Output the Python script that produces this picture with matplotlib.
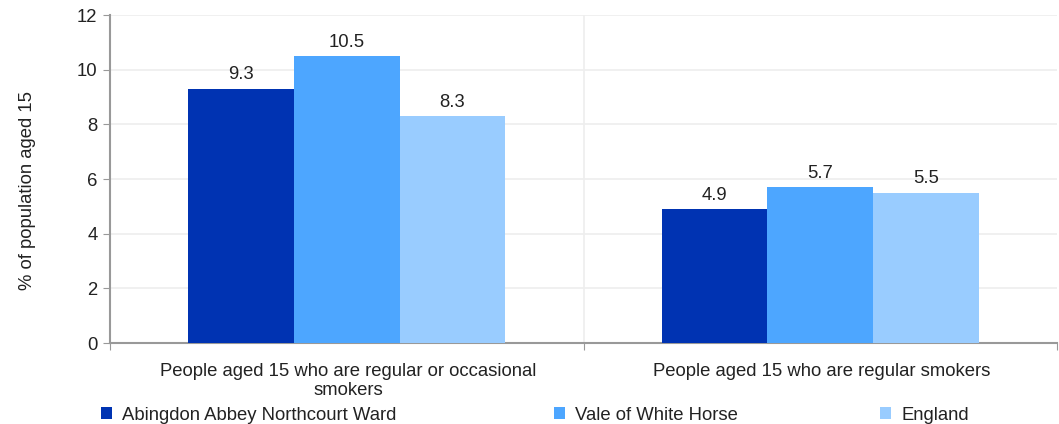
import numpy as np
import matplotlib.pyplot as plt

plt.rcParams['font.family'] = ['Liberation Sans', 'DejaVu Sans']

categories = ['People aged 15 who are regular or occasional\nsmokers',
              'People aged 15 who are regular smokers']
series_names = ['Abingdon Abbey Northcourt Ward', 'Vale of White Horse', 'England']
abingdon = [9.3, 4.9]
vale = [10.5, 5.7]
england = [8.3, 5.5]
colors = ['#0033B2', '#4DA6FF', '#99CCFF']

FS = 13.3
W, H = 1059, 424

fig = plt.figure(figsize=(W / 100, H / 100), dpi=100)
ax = fig.add_axes([110 / W, (H - 343) / H, 947 / W, 328 / H])

x = np.arange(len(categories))
width = 0.223
for i, (vals, name, c) in enumerate(zip([abingdon, vale, england], series_names, colors)):
    bars = ax.bar(x + (i - 1) * width, vals, width, color=c, label=name, zorder=3)
    for b, v in zip(bars, vals):
        ax.text(b.get_x() + b.get_width() / 2, v + 0.2, f'{v:.1f}',
                ha='center', va='bottom', fontsize=FS, color='#222222')

ax.set_xlim(-0.5, 1.5)
ax.set_ylim(0, 12)
ax.set_yticks(range(0, 13, 2))
ax.tick_params(axis='y', labelsize=FS, length=5, color='#999999', pad=4,
               labelcolor='#222222')
ax.set_xticks([-0.5, 0.5, 1.5])
ax.set_xticklabels([])
ax.tick_params(axis='x', length=5, color='#999999')
for xi, lab in zip(x, categories):
    ax.text(xi + 0.003, -0.75, lab, ha='center', va='top', fontsize=FS,
            color='#222222', linespacing=1.12)

ax.grid(axis='y', color='#EEEEEE', linewidth=1.2, zorder=0)
ax.axvline(0.5, color='#EEEEEE', linewidth=1.2, zorder=0)
for s in ['top', 'right']:
    ax.spines[s].set_visible(False)
for s in ['left', 'bottom']:
    ax.spines[s].set_color('#999999')
    ax.spines[s].set_linewidth(1.5)

fig.text(28 / W, (H - 190) / H, '% of population aged 15', rotation=90,
         ha='center', va='center', fontsize=FS, color='#222222')

# legend entries placed one by one, as in the reference
handles, labels = ax.get_legend_handles_labels()
legend_x = [101, 554, 880]
for h, l, lx in zip(handles, labels, legend_x):
    leg = fig.legend([h], [l], loc='center left', bbox_to_anchor=(lx / W, 9 / H),
                     frameon=False, fontsize=FS, handlelength=0.6, handleheight=0.6,
                     handletextpad=0.55, borderpad=0, borderaxespad=0)
    for t in leg.get_texts():
        t.set_color('#222222')

fig.savefig('out.png', dpi=100)
